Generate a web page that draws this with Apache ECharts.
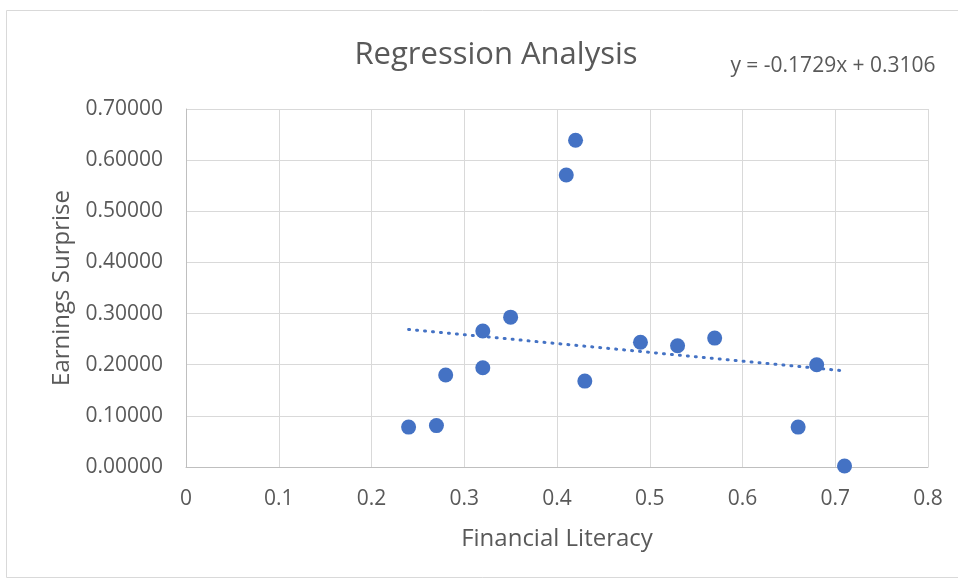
<!DOCTYPE html>
<html>
<head>
<meta charset="utf-8">
<script src="https://cdn.jsdelivr.net/npm/echarts@6/dist/echarts.min.js"></script>
<style>
  html, body { margin: 0; padding: 0; background: #fff; }
  #chart { width: 958px; height: 580px; }
</style>
</head>
<body>
<div id="chart"></div>
<script>
  // values
  const literacy = [0.24, 0.27, 0.28, 0.32, 0.32, 0.35, 0.41, 0.42, 0.43, 0.49, 0.53, 0.57, 0.66, 0.68, 0.71];
  const surprise = [0.078, 0.081, 0.180, 0.266, 0.194, 0.293, 0.571, 0.639, 0.168, 0.244, 0.237, 0.252, 0.078, 0.200, 0.002];
  // trendline endpoints (first and last x) as drawn in the picture
  const trendX = [0.24, 0.71];
  const trendY = [0.269, 0.188];
  const equationLabel = "y = -0.1729x + 0.3106";

  const textColor = "#595959";
  const gridColor = "#d9d9d9";
  const pointColor = "#4472c4";
  const font = "'Open Sans', 'Liberation Sans', sans-serif";

  const chart = echarts.init(document.getElementById("chart"));
  chart.setOption({
    animation: false,
    textStyle: { fontFamily: font },
    graphic: [
      {
        type: "rect",
        shape: { x: 6.5, y: 10.5, width: 960, height: 567 },
        style: { fill: "none", stroke: "#d9d9d9", lineWidth: 1 },
        silent: true,
      },
    ],
    title: [
      {
        text: "Regression Analysis",
        left: 491,
        top: 35,
        textAlign: "center",
        textStyle: { color: textColor, fontSize: 31, fontWeight: "normal", fontFamily: font },
      },
      {
        text: equationLabel,
        left: 828,
        top: 51,
        textAlign: "center",
        textStyle: { color: textColor, fontSize: 21, fontWeight: "normal", fontFamily: font },
      },
    ],
    grid: { left: 186, right: 30, top: 109, bottom: 113 },
    xAxis: {
      type: "value",
      min: 0,
      max: 0.8,
      interval: 0.1,
      name: "Financial Literacy",
      nameLocation: "middle",
      nameGap: 60,
      nameTextStyle: { color: textColor, fontSize: 24 },
      axisLine: { show: true, lineStyle: { color: "#bfbfbf" } },
      axisTick: { show: false },
      axisLabel: { color: textColor, fontSize: 21, margin: 22, formatter: (v) => String(Math.round(v * 10) / 10) },
      splitLine: { show: true, lineStyle: { color: gridColor, width: 1 } },
    },
    yAxis: {
      type: "value",
      min: 0,
      max: 0.7,
      interval: 0.1,
      name: "Earnings Surprise",
      nameLocation: "middle",
      nameGap: 110,
      nameTextStyle: { color: textColor, fontSize: 24 },
      axisLine: { show: true, lineStyle: { color: "#bfbfbf" } },
      axisTick: { show: false },
      axisLabel: { color: textColor, fontSize: 21, margin: 23, formatter: (v) => v.toFixed(5) },
      splitLine: { show: true, lineStyle: { color: gridColor, width: 1 } },
    },
    series: [
      {
        type: "line",
        data: trendX.map((x, i) => [x, trendY[i]]),
        showSymbol: false,
        lineStyle: { color: pointColor, width: 3, type: [1, 7], cap: "round" },
        z: 1,
      },
      {
        type: "scatter",
        data: literacy.map((x, i) => [x, surprise[i]]),
        symbolSize: 15,
        itemStyle: { color: pointColor, opacity: 1 },
        z: 2,
      },
    ],
  });
</script>
</body>
</html>
